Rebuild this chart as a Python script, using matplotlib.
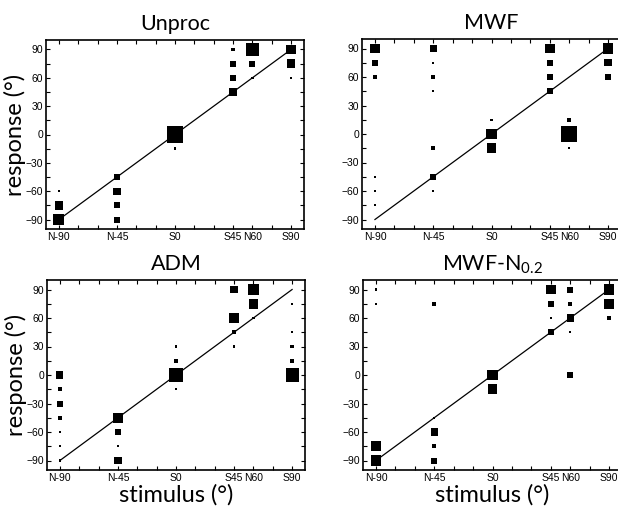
import numpy as np
import matplotlib
matplotlib.use('Agg')
import matplotlib.pyplot as plt

# stimulus categories (angle in degrees) and their tick labels
stim_labels = ['N-90', 'N-45', 'S0', 'S45', 'N60', 'S90']
stim_pos = [-90, -45, 0, 45, 60, 90]

# each panel: stimulus angle, response angle, count of responses
unproc_stim = [-90, -90, -90, -45, -45, -45, -45, 0, 0, 45, 45, 45, 45, 60, 60, 60, 90, 90, 90]
unproc_resp = [-60, -75, -90, -45, -60, -75, -90, 0, -15, 90, 75, 60, 45, 90, 75, 60, 90, 75, 60]
unproc_n = [1, 6, 8, 4, 5, 4, 4, 13, 1, 2, 4, 4, 5, 10, 4, 1, 7, 6, 1]

mwf_stim = [-90, -90, -90, -90, -90, -90, -45, -45, -45, -45, -45, -45, -45,
            0, 0, 0, 45, 45, 45, 45, 60, 60, 60, 90, 90, 90]
mwf_resp = [90, 75, 60, -45, -60, -75, 90, 75, 60, 45, -15, -45, -60,
            15, 0, -15, 90, 75, 60, 45, 15, 0, -15, 90, 75, 60]
mwf_n = [7, 4, 2, 1, 1, 1, 5, 1, 2, 1, 2, 4, 1,
         1, 8, 7, 7, 4, 4, 4, 2, 12, 1, 8, 5, 4]

adm_stim = [-90, -90, -90, -90, -90, -90, -90, -45, -45, -45, -45,
            0, 0, 0, 0, 45, 45, 45, 45, 60, 60, 60, 90, 90, 90, 90, 90]
adm_resp = [0, -15, -30, -45, -60, -75, -90, -45, -60, -75, -90,
            30, 15, 0, -15, 90, 60, 45, 30, 90, 75, 60, 75, 45, 30, 15, 0]
adm_n = [5, 2, 4, 2, 1, 1, 1, 7, 4, 1, 5,
         1, 2, 11, 1, 5, 8, 2, 1, 8, 7, 1, 1, 1, 2, 2, 10]

mwfn_stim = [-90, -90, -90, -90, -45, -45, -45, -45, -45, 0, 0,
             45, 45, 45, 45, 60, 60, 60, 60, 60, 90, 90, 90]
mwfn_resp = [90, 75, -75, -90, 75, -45, -60, -75, -90, 0, -15,
             90, 75, 60, 45, 90, 75, 60, 45, 0, 90, 75, 60]
mwfn_n = [1, 1, 7, 8, 2, 1, 5, 2, 4, 8, 7,
          7, 4, 1, 4, 4, 2, 5, 1, 4, 8, 7, 2]

titles = ['Unproc', 'MWF', 'ADM', r'MWF-N$\mathregular{_{0.2}}$']
panels = [(unproc_stim, unproc_resp, unproc_n),
          (mwf_stim, mwf_resp, mwf_n),
          (adm_stim, adm_resp, adm_n),
          (mwfn_stim, mwfn_resp, mwfn_n)]

fig = plt.figure(figsize=(6.18, 5.12), dpi=100)
W, H = 618.0, 512.0
# axes boxes in pixels: left, top, width, height (right column runs off the edge)
boxes = [(46, 40, 258, 189), (362, 39, 259, 190),
         (47, 280, 258, 190), (363, 280, 259, 190)]

label_font = 'Lato'
tick_font = 'Liberation Sans'

for i, (box, title, (st, rs, n)) in enumerate(zip(boxes, titles, panels)):
    l, t, w, h = box
    ax = fig.add_axes([l / W, 1 - (t + h) / H, w / W, h / H])
    ax.plot([-90, 90], [-90, 90], color='black', lw=0.9, zorder=1)
    side_px = 1.2 + 1.2 * np.array(n)
    ax.scatter(st, rs, s=(side_px * 0.72) ** 2, marker='s', color='black',
               linewidths=0, zorder=2)
    ax.set_xlim(-100, 100)
    ax.set_ylim(-100, 100)
    ax.set_xticks(stim_pos)
    ax.set_xticklabels(stim_labels)
    ax.set_xticks(np.arange(-90, 91, 15), minor=True)
    ax.set_yticks(np.arange(-90, 91, 30))
    ax.set_yticks(np.arange(-90, 91, 15), minor=True)
    ax.tick_params(which='both', direction='in', top=True, right=(i % 2 == 0),
                   length=3, width=0.8, labelsize=7.5, pad=2)
    for lab in ax.get_xticklabels() + ax.get_yticklabels():
        lab.set_fontfamily(tick_font)
    for sp in ax.spines.values():
        sp.set_linewidth(1.2)
    ax.set_title(title, fontsize=15.5, fontfamily=label_font, pad=7)
    if i % 2 == 0:
        ax.set_ylabel('response (°)', fontsize=17, fontfamily=label_font, labelpad=0)
    if i >= 2:
        ax.set_xlabel('stimulus (°)', fontsize=17, fontfamily=label_font, labelpad=1)

fig.savefig('out.png', dpi=100)
